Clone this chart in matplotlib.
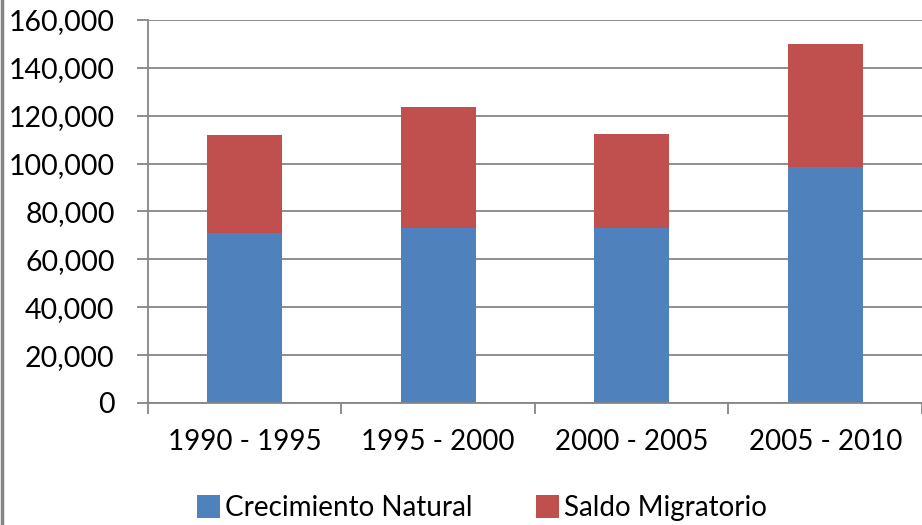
import matplotlib.pyplot as plt
from matplotlib.lines import Line2D
from matplotlib.ticker import FuncFormatter

# Data
periods = ["1990 - 1995", "1995 - 2000", "2000 - 2005", "2005 - 2010"]
crecimiento_natural = [71000, 73100, 73100, 98700]
saldo_migratorio = [41000, 50500, 39300, 51100]

blue = "#4F81BD"
red = "#C0504D"
grid_gray = "#868686"

plt.rcParams["font.family"] = ["Lato", "DejaVu Sans"]

fig = plt.figure(figsize=(9.22, 5.25), dpi=100)
ax = fig.add_axes([0.1605, 0.2324, 0.8395, 0.7295])

x = range(len(periods))
ax.bar(x, crecimiento_natural, width=0.39, color=blue, label="Crecimiento Natural", zorder=2)
ax.bar(x, saldo_migratorio, width=0.39, bottom=crecimiento_natural, color=red,
       label="Saldo Migratorio", zorder=2)

ax.set_xlim(-0.5, len(periods) - 0.5)
ax.set_ylim(0, 160000)
ax.set_yticks(range(0, 160001, 20000))
ax.yaxis.set_major_formatter(FuncFormatter(lambda v, p: f"{int(v):,}"))
ax.yaxis.grid(True, color=grid_gray, linewidth=1.3)
ax.set_axisbelow(True)

# category labels centred, tick marks on the boundaries
ax.set_xticks([i - 0.5 for i in range(len(periods) + 1)])
ax.set_xticklabels([])
ax.set_xticks(list(x), minor=True)
ax.set_xticklabels(periods, minor=True)
ax.tick_params(axis="x", which="minor", length=0, pad=19, labelsize=20)
ax.tick_params(axis="x", which="major", length=8, width=1.3, color=grid_gray)
ax.tick_params(axis="y", length=8, width=1.3, color=grid_gray, pad=16, labelsize=20.5)

for side in ["top", "right"]:
    ax.spines[side].set_visible(False)
for side in ["left", "bottom"]:
    ax.spines[side].set_color(grid_gray)
    ax.spines[side].set_linewidth(1.3)

fig.legend(loc="center", bbox_to_anchor=(0.523, 0.032), ncol=2, frameon=False,
           fontsize=20, handlelength=0.8, handleheight=0.9, handletextpad=0.2,
           columnspacing=2.3)

# thin border on the left edge of the picture
fig.add_artist(Line2D([0.002, 0.002], [0, 1], color=grid_gray, linewidth=2.5))

fig.savefig("out.png", dpi=100)
